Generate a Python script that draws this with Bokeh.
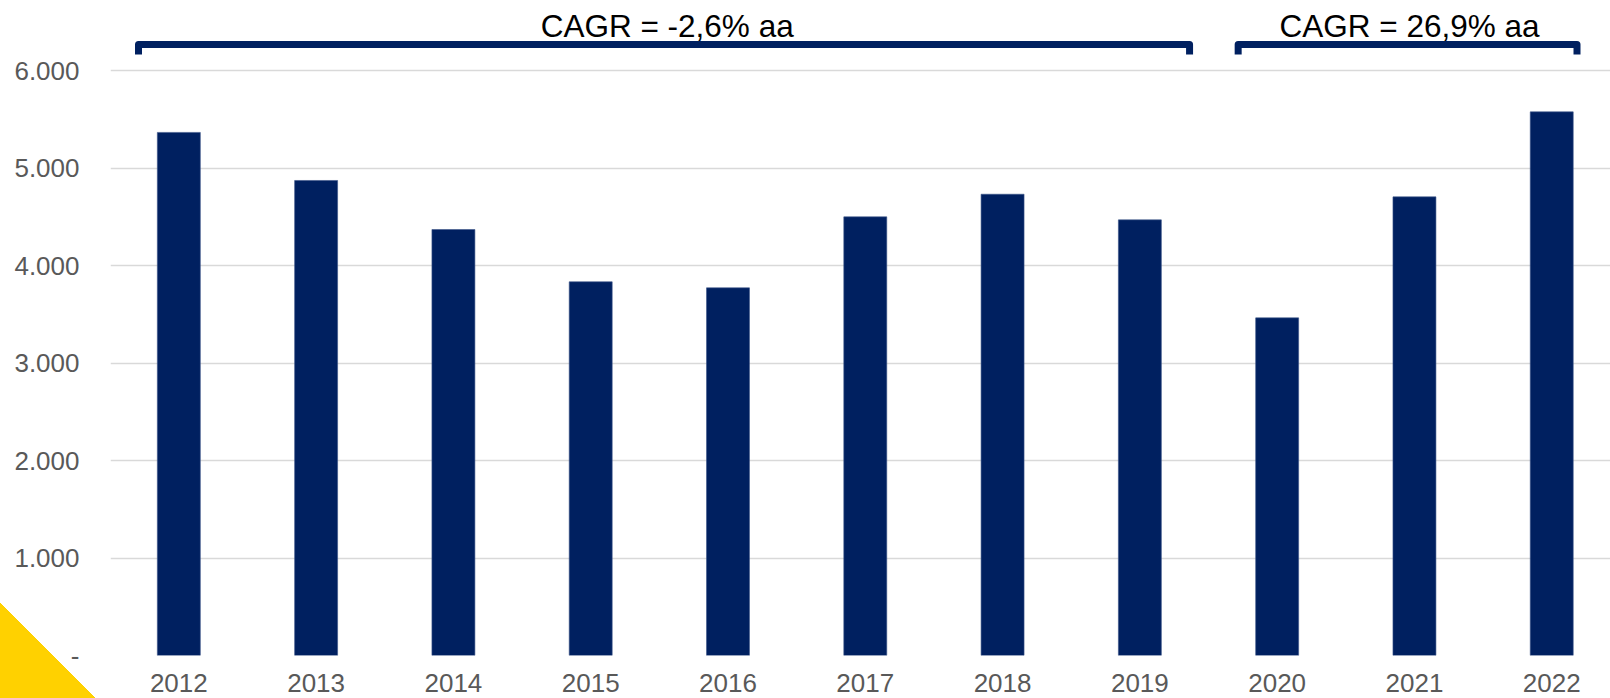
from bokeh.plotting import figure
from bokeh.models import ColumnDataSource, FixedTicker, Label
from bokeh.embed import file_html
from bokeh.resources import INLINE

# ---- data ----
years = ["2012", "2013", "2014", "2015", "2016", "2017", "2018", "2019", "2020", "2021", "2022"]
values = [5365, 4872, 4369, 3833, 3771, 4499, 4731, 4468, 3463, 4704, 5576]
y_ticks = [0, 1000, 2000, 3000, 4000, 5000, 6000]
y_tick_labels = ["-", "1.000", "2.000", "3.000", "4.000", "5.000", "6.000"]
cagr_labels = ["CAGR = -2,6% aa", "CAGR = 26,9% aa"]

NAVY = "#002060"
FONT = "Liberation Sans"

xs = list(range(len(years)))
src = ColumnDataSource(dict(x=xs, top=values, year=years))

p = figure(width=1610, height=698, output_backend="svg", toolbar_location=None,
           x_range=(-0.4977, 10.428), y_range=(0, 6718),
           min_border_left=110, min_border_right=0, min_border_top=0, min_border_bottom=43)
p.outline_line_color = None
p.background_fill_color = "white"
p.border_fill_color = None
# decorative yellow corner triangle (page decoration, bottom-left)
p.styles = {
    "background-color": "white",
    "background-image": "linear-gradient(45deg, #FFD100 50%, transparent 50%)",
    "background-size": "96px 96px",
    "background-position": "left bottom",
    "background-repeat": "no-repeat",
}

p.vbar(x="x", top="top", width=0.313, source=src, fill_color=NAVY, line_color="#3a5488", line_width=0.6)

# axes
p.xaxis.ticker = FixedTicker(ticks=xs)
p.xaxis.major_label_overrides = {i: y for i, y in enumerate(years)}
p.yaxis.ticker = FixedTicker(ticks=y_ticks)
p.yaxis.major_label_overrides = {t: l for t, l in zip(y_ticks, y_tick_labels)}
for ax in (p.xaxis[0], p.yaxis[0]):
    ax.axis_line_color = None
    ax.major_tick_line_color = None
    ax.minor_tick_line_color = None
    ax.major_tick_out = 0
    ax.major_tick_in = 0
    ax.major_label_text_font = FONT
    ax.major_label_text_font_size = "26px"
    ax.major_label_text_color = "#595959"
p.yaxis.major_label_standoff = 31
p.xaxis.major_label_standoff = 18

p.xgrid.grid_line_color = None
p.ygrid.grid_line_color = "#D9D9D9"
p.ygrid.grid_line_width = 1.6

# CAGR brackets
y_top = 6266
y_hook = 6164
brackets = [(-0.2937, 7.362), (7.716, 10.184)]
p.multi_line(xs=[[a, a, b, b] for a, b in brackets],
             ys=[[y_hook, y_top, y_top, y_hook] for _ in brackets],
             line_color=NAVY, line_width=7, line_join="round", line_cap="butt")

label_x = [3.557, 8.964]
for lx, txt in zip(label_x, cagr_labels):
    p.add_layout(Label(x=lx, y=6457, text=txt, text_align="center", text_baseline="alphabetic",
                       text_font=FONT, text_font_size="31.5px", text_color="black"))

html = file_html(p, INLINE)
html = html.replace("</head>", "<style>html,body{margin:0;padding:0;overflow:hidden;background:white;}</style></head>", 1)
open("out.html", "w").write(html)
